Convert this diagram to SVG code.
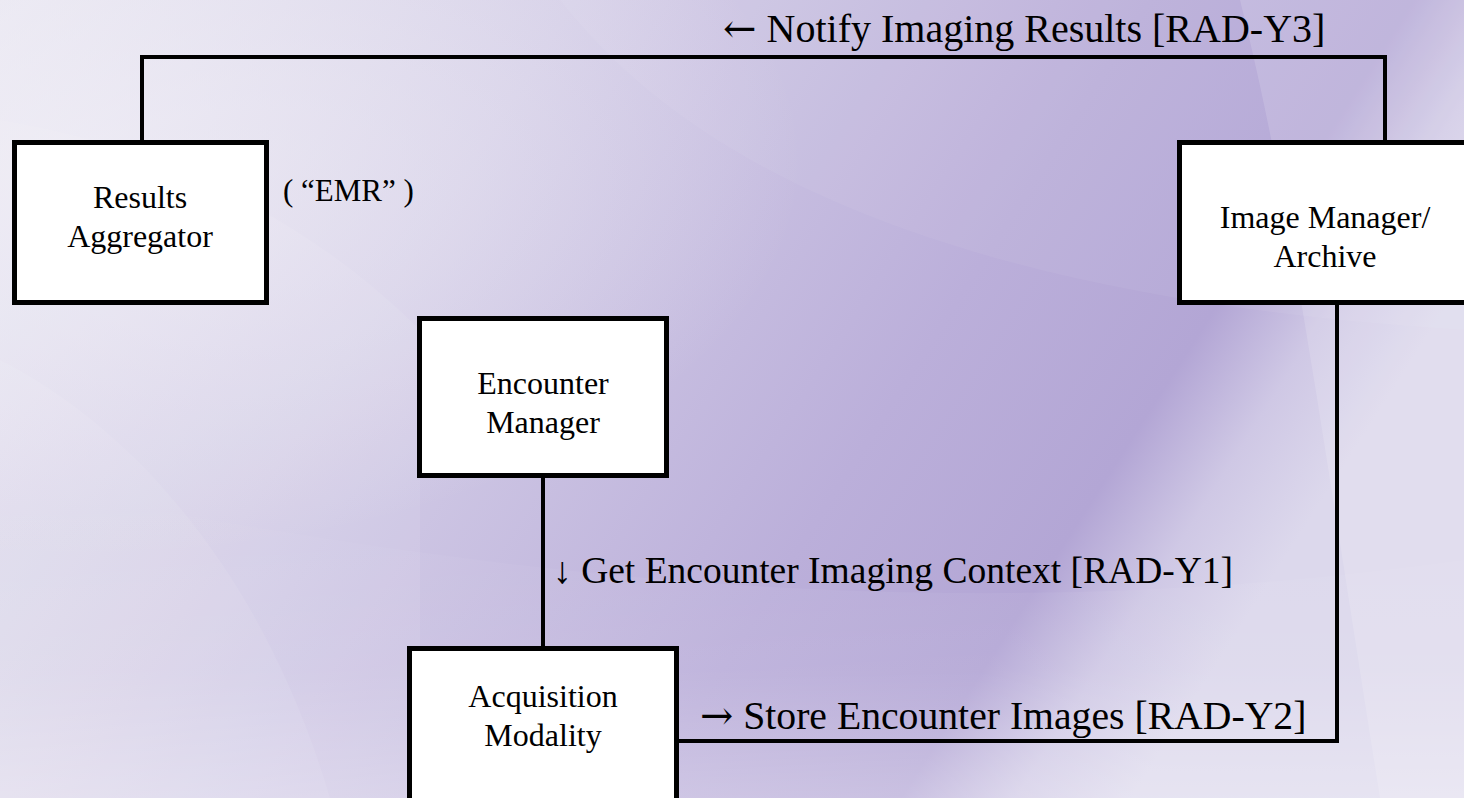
<svg xmlns="http://www.w3.org/2000/svg" width="1464" height="798" viewBox="0 0 1464 798">
  <defs>
    <linearGradient id="bg" x1="0" y1="0" x2="1" y2="0.35">
      <stop offset="0" stop-color="#e8e6f1"/>
      <stop offset="0.35" stop-color="#d4cee7"/>
      <stop offset="0.7" stop-color="#bbafda"/>
      <stop offset="0.86" stop-color="#b3a6d5"/>
      <stop offset="0.93" stop-color="#cfc8e5"/>
      <stop offset="1" stop-color="#dcd8ec"/>
    </linearGradient>
    <linearGradient id="fade" x1="0" y1="0" x2="0" y2="1">
      <stop offset="0" stop-color="#ffffff" stop-opacity="0"/>
      <stop offset="0.6" stop-color="#ffffff" stop-opacity="0.08"/>
      <stop offset="1" stop-color="#ffffff" stop-opacity="0.3"/>
    </linearGradient>
    <radialGradient id="glow" cx="0.05" cy="0.2" r="0.5">
      <stop offset="0" stop-color="#f2f0f7" stop-opacity="0.7"/>
      <stop offset="1" stop-color="#f2f0f7" stop-opacity="0"/>
    </radialGradient>
    <style>
      .box { fill: #ffffff; stroke: #000000; stroke-width: 5; }
      .wire { fill: none; stroke: #000000; stroke-width: 4; stroke-linecap: square; }
      .node-text { font-family: "Liberation Serif", "Times New Roman", serif; font-size: 32px; fill: #000000; text-anchor: middle; }
      .edge-text { font-family: "Liberation Serif", "Times New Roman", serif; font-size: 40px; fill: #000000; }
      .arrow { font-family: "DejaVu Serif", serif; font-weight: 300; }
    </style>
  </defs>

  <!-- background with soft sweeping bands -->
  <rect x="0" y="0" width="1464" height="798" fill="url(#bg)"/>
  <rect x="0" y="0" width="1464" height="798" fill="url(#glow)"/>
  <path d="M0,120 C180,150 320,230 420,330 L420,798 L0,798 Z" fill="#ffffff" opacity="0.08"/>
  <path d="M0,360 C120,420 260,560 330,798 L0,798 Z" fill="#ffffff" opacity="0.08"/>
  <path d="M560,0 C700,180 980,300 1464,330 L1464,0 Z" fill="#ffffff" opacity="0.05"/>
  <path d="M1240,0 C1290,200 1320,420 1380,798 L1464,798 L1464,0 Z" fill="#ffffff" opacity="0.14"/>
  <path d="M0,480 C400,560 900,640 1464,560 L1464,798 L0,798 Z" fill="url(#fade)"/>

  <!-- connectors -->
  <g id="connectors">
    <polyline class="wire" points="142,140 142,57 1385,57 1385,140"/>
    <line class="wire" x1="543" y1="478" x2="543" y2="646"/>
    <polyline class="wire" points="679,741 1337,741 1337,305"/>
    <text class="edge-text" x="723" y="42"><tspan class="arrow">←</tspan> Notify Imaging Results [RAD-Y3]</text>
    <text class="edge-text" x="553" y="583" style="font-size:37.5px">↓ Get Encounter Imaging Context [RAD-Y1]</text>
    <text class="edge-text" x="700" y="729" style="font-size:39.7px"><tspan class="arrow">→</tspan> Store Encounter Images [RAD-Y2]</text>
  </g>

  <g id="results-aggregator">
    <rect class="box" x="14.5" y="142.5" width="252" height="160"/>
    <text class="node-text" x="140" y="208">Results</text>
    <text class="node-text" x="140" y="247">Aggregator</text>
  </g>
  <text id="emr-note" class="edge-text" x="283" y="201" style="font-size:31px">( “EMR” )</text>

  <g id="image-manager">
    <rect class="box" x="1179.5" y="142.5" width="300" height="160"/>
    <text class="node-text" x="1325" y="228">Image Manager/</text>
    <text class="node-text" x="1325" y="267">Archive</text>
  </g>

  <g id="encounter-manager">
    <rect class="box" x="419.5" y="318.5" width="247" height="157"/>
    <text class="node-text" x="543" y="394">Encounter</text>
    <text class="node-text" x="543" y="433">Manager</text>
  </g>

  <g id="acquisition-modality">
    <rect class="box" x="409.5" y="648.5" width="267" height="200"/>
    <text class="node-text" x="543" y="707">Acquisition</text>
    <text class="node-text" x="543" y="746">Modality</text>
  </g>
</svg>
